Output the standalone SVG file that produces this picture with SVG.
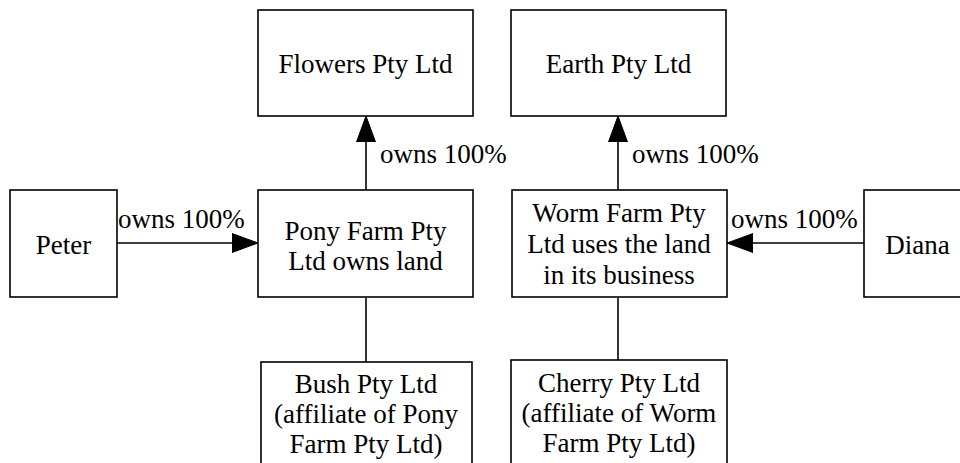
<svg xmlns="http://www.w3.org/2000/svg" width="960" height="463" viewBox="0 0 960 463">
<style>
.box{fill:#fff;stroke:#000;stroke-width:1.6}
.edge{fill:none;stroke:#000;stroke-width:1.6}
text{font-size:27px;fill:#000}
.c{text-anchor:middle}
</style>
<defs>
<marker id="arr" markerUnits="userSpaceOnUse" markerWidth="28" markerHeight="20" refX="26" refY="10" orient="auto">
<path d="M0,0.5 L26,10 L0,19.5 Z" fill="#000" stroke="#000" stroke-width="1"/>
</marker>
</defs>
<rect width="960" height="463" fill="#fff"/>
<g id="connectors">
<line class="edge" x1="117" y1="243" x2="258" y2="243" marker-end="url(#arr)"/>
<text x="118" y="228" font-family="Liberation Serif">owns 100%</text>
<line class="edge" x1="366" y1="190" x2="366" y2="116" marker-end="url(#arr)"/>
<text x="380" y="163" font-family="Liberation Serif">owns 100%</text>
<line class="edge" x1="618" y1="190" x2="618" y2="116" marker-end="url(#arr)"/>
<text x="632" y="163" font-family="Liberation Serif">owns 100%</text>
<line class="edge" x1="864" y1="243" x2="727" y2="243" marker-end="url(#arr)"/>
<text x="731" y="228" font-family="Liberation Serif">owns 100%</text>
<line class="edge" x1="366" y1="298" x2="366" y2="362"/>
<line class="edge" x1="618" y1="298" x2="618" y2="360"/>
</g>
<g id="flowers">
<rect class="box" x="258" y="10" width="215" height="106"/>
<text class="c" x="365.5" y="73" font-family="Liberation Serif">Flowers Pty Ltd</text>
</g>
<g id="earth">
<rect class="box" x="511" y="10" width="215" height="106"/>
<text class="c" x="618.5" y="73" font-family="Liberation Serif">Earth Pty Ltd</text>
</g>
<g id="peter">
<rect class="box" x="10" y="190" width="107" height="107"/>
<text class="c" x="63.5" y="254" font-family="Liberation Serif">Peter</text>
</g>
<g id="pony">
<rect class="box" x="258" y="190" width="215" height="107"/>
<text class="c" x="365.5" y="240" font-family="Liberation Serif">Pony Farm Pty</text>
<text class="c" x="365.5" y="270" font-family="Liberation Serif">Ltd owns land</text>
</g>
<g id="worm">
<rect class="box" x="512" y="190" width="215" height="107"/>
<text class="c" x="619" y="222" font-family="Liberation Serif">Worm Farm Pty</text>
<text class="c" x="619" y="253" font-family="Liberation Serif">Ltd uses the land</text>
<text class="c" x="619" y="284" font-family="Liberation Serif">in its business</text>
</g>
<g id="diana">
<rect class="box" x="864" y="190" width="107" height="107"/>
<text class="c" x="917.5" y="254" font-family="Liberation Serif">Diana</text>
</g>
<g id="bush">
<rect class="box" x="261" y="362" width="211" height="110"/>
<text class="c" x="366" y="393" font-family="Liberation Serif">Bush Pty Ltd</text>
<text class="c" x="366" y="423" font-family="Liberation Serif">(affiliate of Pony</text>
<text class="c" x="366" y="453" font-family="Liberation Serif">Farm Pty Ltd)</text>
</g>
<g id="cherry">
<rect class="box" x="511" y="360" width="216" height="112"/>
<text class="c" x="619" y="392" font-family="Liberation Serif">Cherry Pty Ltd</text>
<text class="c" x="619" y="422" font-family="Liberation Serif">(affiliate of Worm</text>
<text class="c" x="619" y="452" font-family="Liberation Serif">Farm Pty Ltd)</text>
</g>
</svg>
